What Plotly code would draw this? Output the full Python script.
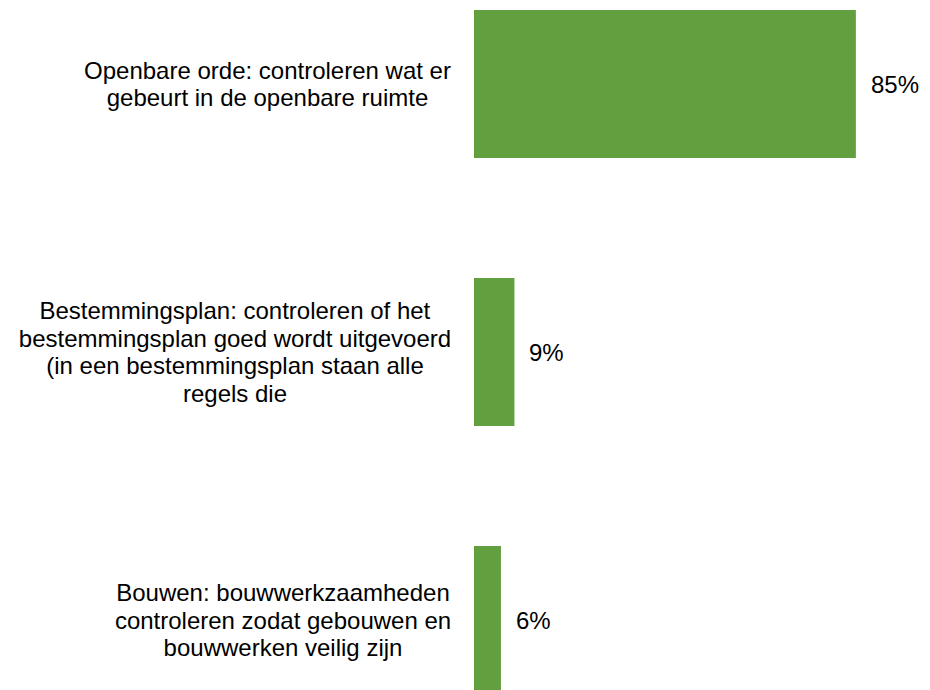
import plotly.graph_objects as go

categorieen = [
    "Openbare orde: controleren wat er<br>gebeurt in de openbare ruimte",
    "Bestemmingsplan: controleren of het<br>bestemmingsplan goed wordt uitgevoerd<br>(in een bestemmingsplan staan alle<br>regels die",
    "Bouwen: bouwwerkzaamheden<br>controleren zodat gebouwen en<br>bouwwerken veilig zijn",
]
percentages = [85, 9, 6]
labels = ["85%", "9%", "6%"]

groen = "#62a03f"
lettertype = "Liberation Sans, Arial, sans-serif"
grootte = 24
regelafstand = 27.5

# Arial/Liberation Sans breedtes (per 1000 em) om de blokbreedte te schatten
breedtes = {
    " ": 278, "(": 333, ")": 333, ":": 278, "%": 889,
    "a": 556, "b": 556, "c": 500, "d": 556, "e": 556, "f": 278, "g": 556,
    "h": 556, "i": 222, "j": 222, "k": 500, "l": 222, "m": 833, "n": 556,
    "o": 556, "p": 556, "q": 556, "r": 333, "s": 500, "t": 278, "u": 556,
    "v": 500, "w": 722, "x": 500, "y": 500, "z": 500, "B": 667, "O": 778,
}


def tekstbreedte(s):
    return sum(breedtes.get(c, 556) for c in s) * grootte / 1000


fig = go.Figure()
fig.add_trace(go.Bar(
    x=percentages,
    y=categorieen,
    orientation="h",
    width=0.552,
    marker=dict(color=groen, line=dict(width=0)),
    hoverinfo="skip",
))

# labels links, gecentreerd, regel voor regel (krappere regelafstand)
for cat in categorieen:
    regels = cat.split("<br>")
    n = len(regels)
    blok = round(max(tekstbreedte(r) for r in regels)) + 2
    for i, regel in enumerate(regels):
        fig.add_annotation(
            x=0, xref="paper", y=cat, yref="y",
            text=regel, showarrow=False,
            xanchor="right", xshift=-20, align="center",
            yanchor="middle", yshift=((n - 1) / 2 - i) * regelafstand,
            width=blok,
            font=dict(family=lettertype, size=grootte, color="#000000"),
        )

# waarden rechts van de balken
for cat, pct, lab in zip(categorieen, percentages, labels):
    fig.add_annotation(
        x=pct, y=cat, text=lab, showarrow=False,
        xanchor="left", xshift=13,
        font=dict(family=lettertype, size=grootte, color="#000000"),
    )

fig.update_layout(
    width=922, height=682,
    margin=dict(l=466, r=0, t=0, b=0),
    plot_bgcolor="white", paper_bgcolor="white",
    showlegend=False,
    font=dict(family=lettertype, size=grootte, color="#000000"),
)
fig.update_xaxes(range=[0, 101.5], visible=False)
fig.update_yaxes(range=[2.2612, -0.2836], showticklabels=False,
                 showgrid=False, zeroline=False, showline=False, ticks="")

fig.write_html("out.html")
